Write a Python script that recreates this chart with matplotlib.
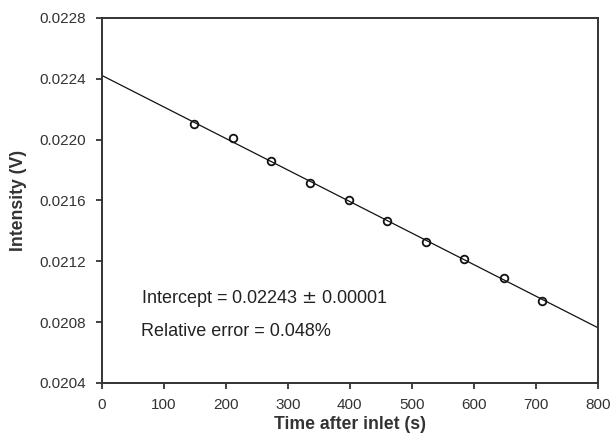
import matplotlib

matplotlib.use("Agg")
import matplotlib.pyplot as plt
import numpy as np

plt.rcParams["font.family"] = ["Liberation Sans", "DejaVu Sans"]

# measured points
time_s = [149, 211, 273, 336, 398, 460, 523, 585, 648, 710]
intensity_v = [0.02210, 0.02201, 0.02186, 0.021715, 0.021605,
               0.021465, 0.021325, 0.021215, 0.02109, 0.020937]

# linear fit (intercept and slope from the chart)
fit_intercept = 0.022423
fit_slope = -2.074e-6
fit_x = [0, 800]

x_ticks = [0, 100, 200, 300, 400, 500, 600, 700, 800]
y_ticks = [0.0204, 0.0208, 0.0212, 0.0216, 0.0220, 0.0224, 0.0228]

fig = plt.figure(figsize=(6.1, 4.42), dpi=100)
ax = fig.add_axes([0.1667, 0.1335, 0.8133, 0.8258])

fx = np.array(fit_x)
ax.plot(fx, fit_intercept + fit_slope * fx, color="#111111", lw=0.9)
ax.plot(time_s, intensity_v, "o", ms=5.5, mfc="none", mec="#111111", mew=1.3)

ax.set_xlim(0, 800)
ax.set_ylim(0.0204, 0.0228)
ax.set_xticks(x_ticks)
ax.set_yticks(y_ticks)
ax.set_yticklabels([f"{v:.4f}" for v in y_ticks])
ax.tick_params(direction="out", length=4, width=1.2, labelsize=11,
               labelcolor="#333333", color="#222222", pad=7)
for s in ax.spines.values():
    s.set_linewidth(1.4)
    s.set_color("#333333")

ax.set_xlabel("Time after inlet (s)", fontsize=12.7, fontweight="bold",
              color="#333333", labelpad=3)
ax.set_ylabel("Intensity (V)", fontsize=12.7, fontweight="bold",
              color="#333333", labelpad=9)

ax.text(63, 0.020928, "Intercept = 0.02243 $\\pm$ 0.00001", fontsize=13,
        color="#222222")
ax.text(63, 0.020711, "Relative error = 0.048%", fontsize=13,
        color="#222222")

fig.savefig("out.png", dpi=100)
